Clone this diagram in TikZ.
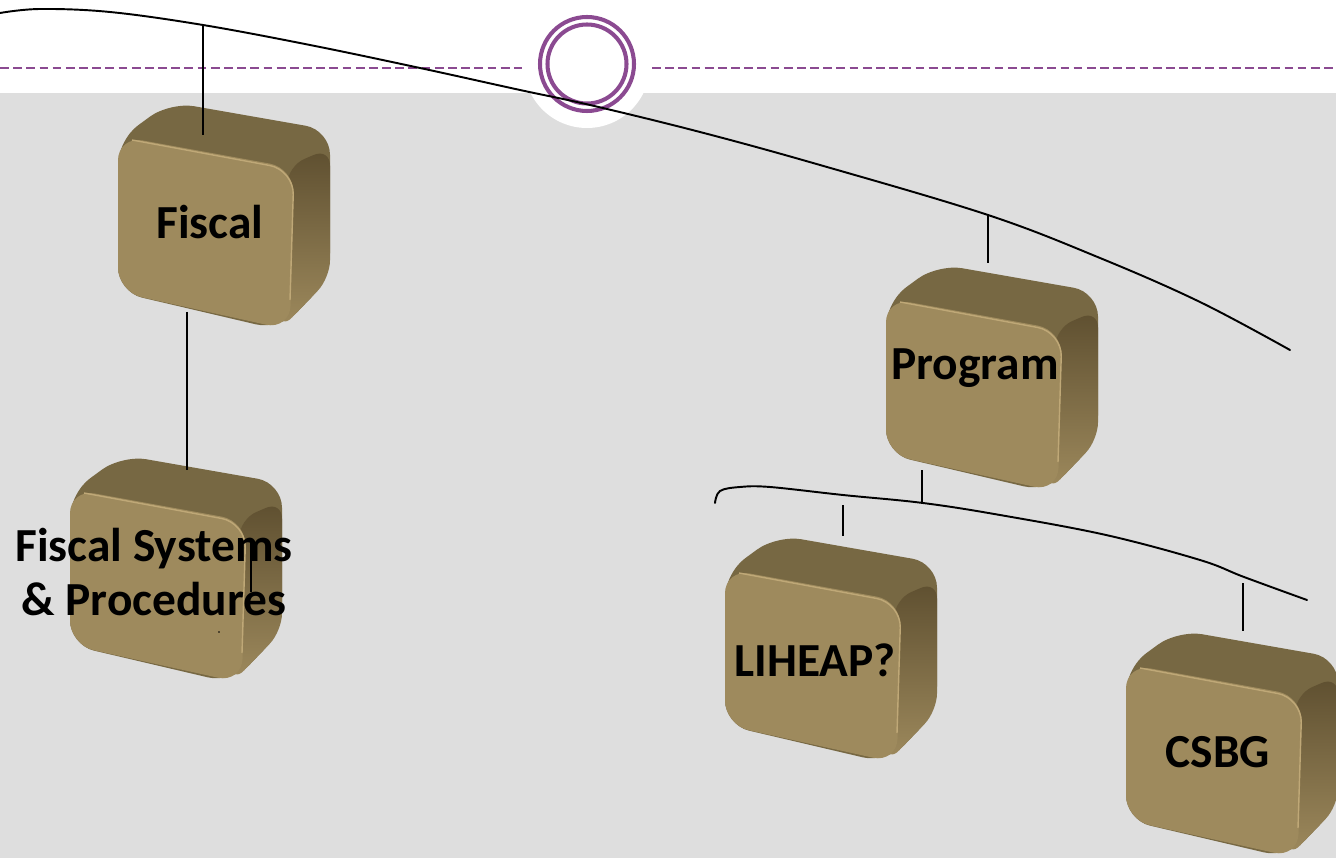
\documentclass[tikz,border=0pt]{standalone}
\usepackage{fontspec}
\setmainfont{Carlito}
\usetikzlibrary{positioning, calc}
\definecolor{Pane}{HTML}{DEDEDE}
\definecolor{Plum}{HTML}{8B4A91}
\definecolor{TanFront}{HTML}{9E8A5D}
\definecolor{TanTop}{HTML}{776843}
\definecolor{TanDark}{HTML}{5E4F30}
\definecolor{TanLight}{HTML}{BFA877}
\tikzset{
    boxlabel/.style={text=black, align=center, font=\bfseries\fontsize{27}{31}\selectfont, inner sep=0pt},
    link/.style={black, line width=1.2pt},
    branch/.style={black, line width=1.1pt, line cap=round},
    pics/tanbox/.style={code={
        \fill[TanTop, rounded corners=14pt] (0,40) -- (52,2) -- (212,30) -- (212,178) -- (162,230) -- (0,192) -- cycle;
        \shade[top color=TanDark, bottom color=TanFront, rounded corners=10pt] (170,66) -- (212,48) -- (212,178) -- (162,230) -- cycle;
        \fill[TanFront, rounded corners=14pt] (0,36) -- (176,68) -- (172,230) -- (0,192) -- cycle;
        \draw[TanLight, line width=0.8pt, rounded corners=14pt] (14,40) -- (176,70) -- (172,200);
    }},
}
\begin{document}
\begin{tikzpicture}[x=0.02cm, y=-0.02cm]
    \useasboundingbox (0,0) rectangle (1336,858);
    % Background
    \fill[white] (0,0) rectangle (1336,858);
    \fill[Pane] (0,93) rectangle (1336,858);
    \fill[white] (587,65) circle (63);
    \draw[Plum, line width=0.9pt, dash pattern=on 5pt off 2.5pt] (0,68) -- (522,68);
    \draw[Plum, line width=0.9pt, dash pattern=on 5pt off 2.5pt] (652,68) -- (1336,68);
    \draw[Plum, line width=2.3pt] (587,64) circle (47);
    \draw[Plum, line width=2.3pt] (587,64) circle (39.5);

    % Boxes
    \pic (fis) at (118,100) {tanbox};
    \pic (sys) at (70,453) {tanbox};
    \pic (prg) at (886,262) {tanbox};
    \pic (lih) at (725,533) {tanbox};
    \pic (csb) at (1126,628) {tanbox};

    % Branch curves
    \draw[branch] plot[smooth, tension=0.6] coordinates {(0,13) (40,9) (110,12) (203,25) (310,45) (420,68) (520,90) (590,105) (700,132) (820,165) (988,215) (1100,258) (1200,302) (1290,350)};
    \draw[branch] plot[smooth, tension=0.6] coordinates {(715,503) (720,491) (740,487) (770,487) (843,495) (923,503) (1000,515) (1106,535) (1200,560) (1244,577) (1307,600)};

    % Labels
    \node[boxlabel] (fiscal) at (210,222) {Fiscal};
    \node[boxlabel] (systems) at (154,572) {Fiscal Systems\\\& Procedures};
    \node[boxlabel] (program) at (975,368) {Program};
    \node[boxlabel] (liheap) at (815,660) {LIHEAP?};
    \node[boxlabel] (csbg) at (1218,752) {CSBG};

    % Connectors
    \coordinate (fiscalknot) at (203,25);
    \coordinate (fiscaltop) at (203,135);
    \coordinate (fiscalfoot) at (187,312);
    \coordinate (systemstop) at (187,470);
    \coordinate (programknot) at (988,215);
    \coordinate (programtop) at (988,263);
    \coordinate (programfoot) at (922,470);
    \coordinate (programknee) at (922,503);
    \coordinate (liheapknot) at (843,505);
    \coordinate (liheaptop) at (843,536);
    \coordinate (csbgknot) at (1243,583);
    \coordinate (csbgtop) at (1243,631);
    \draw[link] (fiscalknot) -- (fiscaltop);
    \draw[link] (fiscalfoot) -- (systemstop);
    \draw[link] (programknot) -- (programtop);
    \draw[link] (programfoot) -- (programknee);
    \draw[link] (liheapknot) -- (liheaptop);
    \draw[link] (csbgknot) -- (csbgtop);
    \draw[link] (251,540) -- (251,592);
    \fill[black] (219,632) circle (0.8);
\end{tikzpicture}
\end{document}
